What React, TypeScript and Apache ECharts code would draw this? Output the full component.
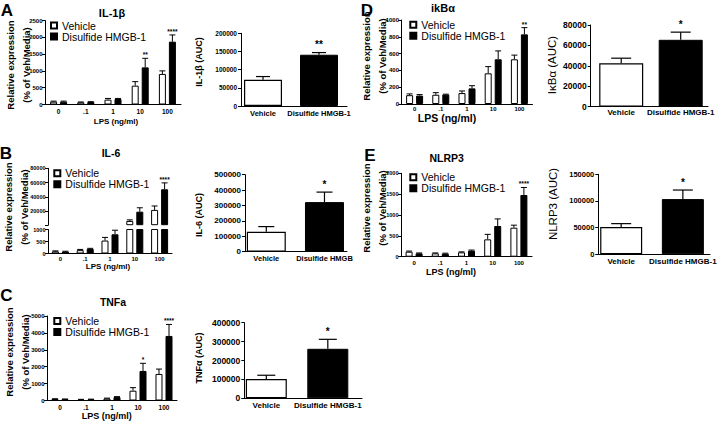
import React, { useEffect, useRef } from 'react';
import * as echarts from 'echarts';

// ---------- data ----------
const lpsDoses = ['0', '.1', '1', '10', '100'];
const groups = ['Vehicle', 'Disulfide HMGB-1'];
const aucGroups = ['Vehicle', 'Disulfide HMGB-1'];
const aucGroupsIl6 = ['Vehicle', 'Disulfide HMGB'];

const il1bVehicle = [85, 65, 145, 560, 910];
const il1bVehicleSem = [15, 10, 35, 120, 90];
const il1bHmgb = [85, 75, 165, 1105, 1870];
const il1bHmgbSem = [15, 10, 15, 270, 200];
const il1bStars = ['', '', '', '**', '****'];
const il1bAuc = [72000, 141000];
const il1bAucSem = [9000, 6000];
const il1bAucStars = ['', '**'];

const il6Vehicle = [90, 140, 540, 6000, 21500];
const il6VehicleSem = [20, 30, 130, 1500, 5500];
const il6Hmgb = [80, 190, 800, 19000, 50500];
const il6HmgbSem = [15, 25, 170, 5500, 9000];
const il6Stars = ['', '', '', '', '****'];
const il6Auc = [130000, 322000];
const il6AucSem = [33000, 65000];
const il6AucStars = ['', '*'];

const tnfVehicle = [90, 60, 120, 580, 1570];
const tnfVehicleSem = [15, 10, 20, 180, 290];
const tnfHmgb = [80, 70, 200, 1750, 3820];
const tnfHmgbSem = [10, 10, 30, 450, 680];
const tnfStars = ['', '', '', '*', '****'];
const tnfAuc = [102000, 262000];
const tnfAucSem = [20000, 50000];
const tnfAucStars = ['', '*'];

const ikbVehicle = [105, 110, 130, 365, 532];
const ikbVehicleSem = [15, 25, 25, 80, 50];
const ikbHmgb = [100, 112, 186, 532, 829];
const ikbHmgbSem = [12, 5, 32, 100, 80];
const ikbStars = ['', '', '', '', '**'];
const ikbAuc = [42500, 65500];
const ikbAucSem = [5000, 7500];
const ikbAucStars = ['', '*'];

const nlrp3Vehicle = [120, 80, 104, 416, 696];
const nlrp3VehicleSem = [15, 10, 12, 120, 60];
const nlrp3Hmgb = [80, 72, 144, 736, 1480];
const nlrp3HmgbSem = [10, 12, 15, 170, 180];
const nlrp3Stars = ['', '', '', '', '****'];
const nlrp3Auc = [51000, 103500];
const nlrp3AucSem = [6500, 17000];
const nlrp3AucStars = ['', '*'];

const IL6_BREAK = 1000;

// ---------- option builder ----------
const FONT = "'Liberation Sans', Arial, Helvetica, sans-serif";

function buildOption() {
  const grid: any[] = [];
  const xAxis: any[] = [];
  const yAxis: any[] = [];
  const series: any[] = [];

  const plain = (v: number) => String(v);

  const yAx = (gi: number, y: number[], fontSize: number, fmt?: any, margin = 4) => ({
    gridIndex: gi,
    type: 'value',
    min: y[0],
    max: y[1],
    interval: y[2],
    splitLine: { show: false },
    axisLine: { show: true, onZero: false, lineStyle: { color: '#000', width: 1 } },
    axisTick: { show: true, length: 3, lineStyle: { color: '#000', width: 1 } },
    axisLabel: { color: '#000', fontSize, fontWeight: 'bold', fontFamily: FONT, margin, formatter: fmt || plain },
  });

  const addGrid = (box: number[]) => {
    grid.push({ left: box[0], top: box[1], width: box[2], height: box[3], containLabel: false, outerBoundsMode: 'none' });
    return grid.length - 1;
  };

  const addDoseAxes = (d: any) => {
    const gi = addGrid(d.box);
    xAxis.push({
      gridIndex: gi,
      type: 'category',
      data: lpsDoses,
      show: d.showX !== false,
      axisLine: { show: true, onZero: false, lineStyle: { color: '#000', width: 1 } },
      axisTick: { show: false },
      axisLabel: { color: '#000', fontSize: d.xFont, fontWeight: 'bold', fontFamily: FONT, margin: d.xMargin, interval: 0 },
    });
    yAxis.push(yAx(gi, d.y, d.yFont, d.yFmt, 2.5));
    return gi;
  };

  const addDoseBars = (gi: number, veh: any[], hm: any[]) => {
    series.push({
      type: 'bar', name: groups[0], xAxisIndex: gi, yAxisIndex: gi, data: veh,
      barWidth: 7, barGap: '43%', silent: true, z: 2,
      itemStyle: { color: '#fff', borderColor: '#000', borderWidth: 1 },
    });
    series.push({
      type: 'bar', name: groups[1], xAxisIndex: gi, yAxisIndex: gi, data: hm,
      barWidth: 7, barGap: '43%', silent: true, z: 2,
      itemStyle: { color: '#000', borderColor: '#000', borderWidth: 1 },
    });
  };

  const addErr = (
    gi: number, vals: number[], sems: number[], stars: string[], idx: number[],
    offset: number, cap: number, starFont: number, starGap: number, lw: number
  ) => {
    const data = idx.map((i) => [i, vals[i], sems[i]]);
    const st = idx.map((i) => stars[i] || '');
    series.push({
      type: 'custom', name: 'sem', xAxisIndex: gi, yAxisIndex: gi, clip: false, z: 5, silent: true,
      data,
      renderItem: (params: any, api: any) => {
        const xv = api.value(0);
        const v = api.value(1);
        const e = api.value(2);
        const p0 = api.coord([xv, v]);
        const p1 = api.coord([xv, v + e]);
        const x = p0[0] + offset;
        const children: any[] = [
          { type: 'line', shape: { x1: x, y1: p0[1], x2: x, y2: p1[1] }, style: { stroke: '#000', lineWidth: lw } },
          { type: 'line', shape: { x1: x - cap, y1: p1[1], x2: x + cap, y2: p1[1] }, style: { stroke: '#000', lineWidth: lw } },
        ];
        const s = st[params.dataIndex];
        if (s) {
          children.push({
            type: 'text', x, y: p1[1] - starGap,
            style: {
              text: s, fontSize: starFont, fontWeight: 'bold', fontFamily: FONT, fill: '#000',
              align: 'center', verticalAlign: 'bottom', textAlign: 'center', textVerticalAlign: 'bottom',
            },
          });
        }
        return { type: 'group', children };
      },
    });
  };

  const all = [0, 1, 2, 3, 4];
  const doseErrs = (gi: number, veh: number[], vehSem: number[], hm: number[], hmSem: number[], stars: string[], iv = all, ih = all) => {
    addErr(gi, veh, vehSem, [], iv, -5, 3, 6.5, 0, 1);
    addErr(gi, hm, hmSem, stars, ih, 5, 3, 6.5, 0, 1);
  };

  const addAuc = (a: any) => {
    const gi = addGrid(a.box);
    const cats = a.cats;
    xAxis.push({
      gridIndex: gi,
      type: 'value',
      min: a.xr[0],
      max: a.xr[1],
      splitLine: { show: false },
      axisTick: { show: false },
      axisLine: { show: true, onZero: false, lineStyle: { color: '#000', width: 1 } },
      axisLabel: {
        customValues: [0, 1],
        color: '#000', fontSize: a.xFont, fontWeight: 'bold', fontFamily: FONT, margin: a.xMargin,
        formatter: (v: number) => {
          const i = Math.round(v);
          return Math.abs(v - i) < 1e-6 && cats[i] ? cats[i] : '';
        },
      },
    });
    yAxis.push(yAx(gi, a.y, a.yFont));
    series.push({
      type: 'bar', name: 'AUC', xAxisIndex: gi, yAxisIndex: gi, barWidth: a.barW, silent: true, z: 2,
      data: a.vals.map((v: number, i: number) => ({
        value: [i, v],
        itemStyle: i === 0
          ? { color: '#fff', borderColor: '#000', borderWidth: 1.2 }
          : { color: '#000', borderColor: '#000', borderWidth: 1 },
      })),
    });
    addErr(gi, a.vals, a.sems, a.stars, [0, 1], 0, a.cap, 10, 3, 1.2);
  };

  // ---- A: IL-1β ----
  let gi = addDoseAxes({ box: [45, 20.5, 136, 84], y: [0, 2500, 500], yFont: 6, xFont: 6.5, xMargin: 3 });
  addDoseBars(gi, il1bVehicle, il1bHmgb);
  doseErrs(gi, il1bVehicle, il1bVehicleSem, il1bHmgb, il1bHmgbSem, il1bStars);
  addAuc({ box: [241, 33.3, 106, 72.7], xr: [-0.393, 1.5], y: [0, 200000, 50000], yFont: 6.5, xFont: 7.5, xMargin: 3,
    cats: aucGroups, vals: il1bAuc, sems: il1bAucSem, stars: il1bAucStars, barW: 38, cap: 7 });

  // ---- B: IL-6 (broken axis) ----
  const below = (arr: number[]) => all.filter((i) => arr[i] <= IL6_BREAK);
  const above = (arr: number[]) => all.filter((i) => arr[i] > IL6_BREAK);
  gi = addDoseAxes({ box: [48, 229.5, 124, 24], y: [0, 1000, 500], yFont: 5.5, xFont: 6, xMargin: 2 });
  addDoseBars(gi, il6Vehicle, il6Hmgb);
  doseErrs(gi, il6Vehicle, il6VehicleSem, il6Hmgb, il6HmgbSem, il6Stars, below(il6Vehicle), below(il6Hmgb));
  gi = addDoseAxes({ box: [48, 168.3, 124, 56.9], y: [0, 80000, 20000], yFont: 5.5, xFont: 6, xMargin: 2, showX: false,
    yFmt: (v: number) => (v === 0 ? '' : String(v)) });
  addDoseBars(gi, il6Vehicle.map((v) => (v > IL6_BREAK ? v : '-')), il6Hmgb.map((v) => (v > IL6_BREAK ? v : '-')));
  doseErrs(gi, il6Vehicle, il6VehicleSem, il6Hmgb, il6HmgbSem, il6Stars, above(il6Vehicle), above(il6Hmgb));
  addAuc({ box: [245, 174.7, 102, 77], xr: [-0.366, 1.387], y: [0, 500000, 100000], yFont: 8, xFont: 7.5, xMargin: 3,
    cats: aucGroupsIl6, vals: il6Auc, sems: il6AucSem, stars: il6AucStars, barW: 39, cap: 8 });

  // ---- C: TNFa ----
  gi = addDoseAxes({ box: [47, 316, 130, 84.5], y: [0, 5000, 1000], yFont: 6, xFont: 6.5, xMargin: 3 });
  addDoseBars(gi, tnfVehicle, tnfHmgb);
  doseErrs(gi, tnfVehicle, tnfVehicleSem, tnfHmgb, tnfHmgbSem, tnfStars);
  addAuc({ box: [244.3, 322.7, 117.7, 75.6], xr: [-0.358, 1.556], y: [0, 400000, 100000], yFont: 8.5, xFont: 8, xMargin: 3.5,
    cats: aucGroups, vals: tnfAuc, sems: tnfAucSem, stars: tnfAucStars, barW: 41, cap: 9 });

  // ---- D: ikBα ----
  gi = addDoseAxes({ box: [401.5, 20, 131, 84], y: [0, 1000, 200], yFont: 6, xFont: 6, xMargin: 2 });
  addDoseBars(gi, ikbVehicle, ikbHmgb);
  doseErrs(gi, ikbVehicle, ikbVehicleSem, ikbHmgb, ikbHmgbSem, ikbStars);
  addAuc({ box: [590.7, 25, 117.3, 81.7], xr: [-0.513, 1.459], y: [0, 80000, 20000], yFont: 8.5, xFont: 8, xMargin: 2,
    cats: aucGroups, vals: ikbAuc, sems: ikbAucSem, stars: ikbAucStars, barW: 44, cap: 10 });

  // ---- E: NLRP3 ----
  gi = addDoseAxes({ box: [401, 173.3, 131, 83.4], y: [0, 2000, 500], yFont: 5.5, xFont: 6, xMargin: 3 });
  addDoseBars(gi, nlrp3Vehicle, nlrp3Hmgb);
  doseErrs(gi, nlrp3Vehicle, nlrp3VehicleSem, nlrp3Hmgb, nlrp3HmgbSem, nlrp3Stars);
  addAuc({ box: [598.3, 174.3, 111.7, 80], xr: [-0.371, 1.44], y: [0, 150000, 50000], yFont: 7.5, xFont: 8, xMargin: 3,
    cats: aucGroups, vals: nlrp3Auc, sems: nlrp3AucSem, stars: nlrp3AucStars, barW: 42, cap: 10 });

  // ---- legends ----
  const legendAt = (left: number, top: number) => ({
    left, top, orient: 'vertical', padding: 0, itemGap: 0, itemWidth: 6, itemHeight: 6, icon: 'rect',
    selectedMode: false, data: groups,
    textStyle: { fontSize: 10.5, color: '#000', fontFamily: FONT, lineHeight: 9, padding: 0 },
  });
  const legend = [
    legendAt(50, 20),
    legendAt(53.3, 167.8),
    legendAt(53.3, 315.5),
    legendAt(409.3, 19.2),
    legendAt(409.3, 171.8),
  ];

  // ---- texts ----
  const txt = (text: string, x: number, y: number, size: number, weight = 'bold', rot = 0) => ({
    type: 'text', x, y, rotation: rot, silent: true,
    style: {
      text, fontSize: size, fontWeight: weight, fontFamily: FONT, fill: '#000',
      align: 'center', verticalAlign: 'middle', textAlign: 'center', textVerticalAlign: 'middle',
    },
  });
  const R = Math.PI / 2;
  const graphic = [
    txt('A', 7, 10, 17), txt('B', 6, 153, 17), txt('C', 6.5, 295.5, 17), txt('D', 367, 10, 17), txt('E', 370, 155, 17),
    txt('IL-1β', 112, 13.3, 11), txt('IL-6', 111, 153.3, 10.5), txt('TNFa', 113, 301.7, 10.5),
    txt('ikBα', 443, 8, 11), txt('NLRP3', 446.7, 158.3, 10.5),
    txt('Relative expression', 10.5, 65, 9.5, 'bold', R), txt('(% of Veh/Media)', 26, 65, 9.5, 'bold', R),
    txt('Relative expression', 8.5, 207, 9.5, 'bold', R), txt('(% of Veh/Media)', 24, 207, 9.5, 'bold', R),
    txt('Relative expression', 9, 352, 9.5, 'bold', R), txt('(% of Veh/Media)', 25.5, 352, 9.5, 'bold', R),
    txt('Relative expression', 366.5, 56, 9.5, 'bold', R), txt('(% of Veh/Media)', 382.5, 56, 9.5, 'bold', R),
    txt('Relative expression', 366.5, 208, 9.5, 'bold', R), txt('(% of Veh/Media)', 382.5, 208, 9.5, 'bold', R),
    txt('IL-1β (AUC)', 199, 62, 9, 'bold', R),
    txt('IL-6 (AUC)', 199, 215, 9, 'bold', R),
    txt('TNFα (AUC)', 199, 358, 9, 'bold', R),
    txt('IκBα (AUC)', 552, 65, 11.5, 'normal', R),
    txt('NLRP3 (AUC)', 553, 204, 11.5, 'normal', R),
    txt('LPS (ng/ml)', 116, 121, 8), txt('LPS (ng/ml)', 108, 266.7, 8), txt('LPS (ng/ml)', 106.7, 416, 9),
    txt('LPS (ng/ml)', 447, 117.5, 10.5), txt('LPS (ng/ml)', 451, 271.5, 9),
  ];

  return {
    animation: false,
    backgroundColor: '#fff',
    textStyle: { fontFamily: FONT },
    grid,
    xAxis,
    yAxis,
    legend,
    series,
    graphic,
  };
}

export default function App() {
  const ref = useRef<HTMLDivElement>(null);
  useEffect(() => {
    if (!ref.current) return;
    const chart = echarts.init(ref.current, null, { renderer: 'svg', width: 720, height: 422 });
    chart.setOption(buildOption() as any);
    return () => chart.dispose();
  }, []);
  return (
    <div
      ref={ref}
      style={{ position: 'fixed', left: 0, top: 0, width: 720, height: 422, background: '#fff' }}
    />
  );
}
